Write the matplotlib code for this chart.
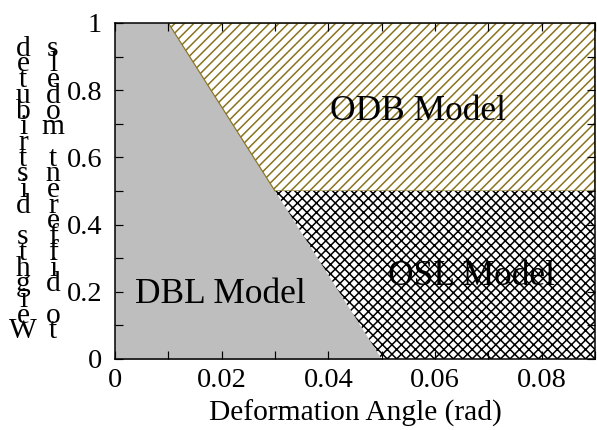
import numpy as np
import matplotlib.pyplot as plt
from matplotlib.ticker import MultipleLocator, FuncFormatter

# datos de las regiones
limite_y = [0, 0.5, 1]
limite_x = [0.05, 0.03, 0.01]
x_max = 0.09
y_corte = 0.5

modelos = ["DBL Model", "ODB Model", "OSL Model"]
pos_modelos = [(0.0197, 0.167), (0.0568, 0.711), (0.0668, 0.220)]

etiqueta_x = "Deformation Angle (rad)"
etiqueta_y = ["Weights distributed", "to different models"]

gris = "#bebebe"
oliva = "#8a7420"

plt.rcParams['font.family'] = ['Liberation Serif', 'DejaVu Serif']
plt.rcParams['hatch.linewidth'] = 1.3

dpi = 85
fig = plt.figure(figsize=(597 / dpi, 430 / dpi), dpi=dpi)
ax = fig.add_axes([115 / 597, 1 - 359 / 430, 480 / 597, 336 / 430])

y = np.array(limite_y)
xb = np.array(limite_x)

# region gris (DBL)
ax.fill_betweenx(y, 0, xb, facecolor=gris, edgecolor=gris, linewidth=0.8)

# region ODB (arriba)
arriba = y >= y_corte
ax.fill_betweenx(y[arriba], xb[arriba], x_max, facecolor='white',
                 edgecolor=oliva, hatch='///', linewidth=1.0)

# region OSL (abajo)
abajo = y <= y_corte
ax.fill_betweenx(y[abajo], xb[abajo], x_max, facecolor='white',
                 edgecolor='black', hatch='xxx', linewidth=0)

for nombre, (px, py) in zip(modelos, pos_modelos):
    ax.text(px, py, nombre, ha='center', va='baseline', fontsize=30)

ax.set_xlim(0, x_max)
ax.set_ylim(0, 1)
ax.xaxis.set_major_locator(MultipleLocator(0.02))
ax.xaxis.set_minor_locator(MultipleLocator(0.01))
ax.yaxis.set_major_locator(MultipleLocator(0.2))
ax.yaxis.set_minor_locator(MultipleLocator(0.1))
fmt = FuncFormatter(lambda v, p: "0" if abs(v) < 1e-9 else ("1" if abs(v - 1) < 1e-9 else f"{v:g}"))
ax.xaxis.set_major_formatter(fmt)
ax.yaxis.set_major_formatter(fmt)
ax.tick_params(which='both', direction='in', top=True, right=True,
               length=7, width=1.0, labelsize=24)
ax.tick_params(axis='x', pad=8)
ax.tick_params(axis='y', pad=11)
for s in ax.spines.values():
    s.set_linewidth(1.3)

ax.set_xlabel(etiqueta_x, fontsize=25, labelpad=5)

# etiqueta y: letras apiladas de abajo hacia arriba
for i, texto in enumerate(etiqueta_y):
    apilado = "\n".join(reversed(texto))
    fig.text((23 + 30 * i) / 597, 1 - 190 / 430, apilado, ha='center', va='center',
             multialignment='center', fontsize=25, linespacing=0.485)

fig.savefig("out.png", dpi=dpi)
